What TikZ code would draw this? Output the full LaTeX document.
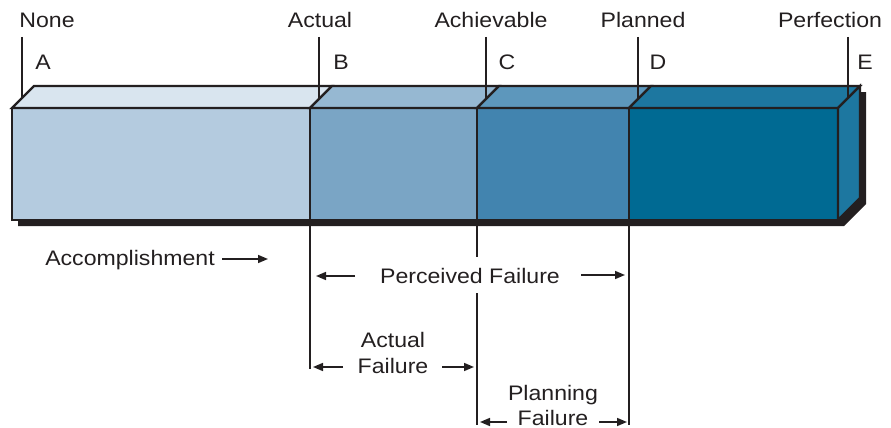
\documentclass[tikz,border=0pt]{standalone}
\usepackage{fontspec}
\setmainfont{Liberation Sans}[FakeStretch=1.1]
\usetikzlibrary{arrows.meta}
\definecolor{ink}{HTML}{231F20}
\definecolor{fa}{HTML}{B4CBDF}
\definecolor{ta}{HTML}{D9E5EF}
\definecolor{fb}{HTML}{7AA5C5}
\definecolor{tb}{HTML}{96B8D2}
\definecolor{fc}{HTML}{4284AF}
\definecolor{tc}{HTML}{5D97BC}
\definecolor{fd}{HTML}{006A93}
\definecolor{td}{HTML}{1D77A0}
\begin{document}
\begin{tikzpicture}[x=1pt,y=-1pt]
\useasboundingbox (0,0) rectangle (891,428);
\tikzset{
  lbl/.style={font=\fontsize{21}{25}\selectfont, text=ink, anchor=base, inner sep=0pt},
  face/.style={draw=ink, line width=2.2pt, line join=miter},
  tick/.style={draw=ink, line width=1.8pt},
  arr/.style={draw=ink, line width=1.6pt, -{Triangle[length=10pt,width=8pt]}}
}
% shadow
\fill[ink] (18,114) -- (40,92) -- (866,92) -- (866,204) -- (844,226) -- (18,226) -- cycle;
% faces
\filldraw[face, fill=fa] (12,108) rectangle (310,220);
\filldraw[face, fill=ta] (12,108) -- (34,86) -- (332,86) -- (310,108) -- cycle;
\filldraw[face, fill=fb] (310,108) rectangle (477,220);
\filldraw[face, fill=tb] (310,108) -- (332,86) -- (499,86) -- (477,108) -- cycle;
\filldraw[face, fill=fc] (477,108) rectangle (629,220);
\filldraw[face, fill=tc] (477,108) -- (499,86) -- (651,86) -- (629,108) -- cycle;
\filldraw[face, fill=fd] (629,108) rectangle (838,220);
\filldraw[face, fill=td] (629,108) -- (651,86) -- (860,86) -- (838,108) -- cycle;
\filldraw[face, fill=td] (838,108) -- (860,86) -- (860,198) -- (838,220) -- cycle;
% top labels
\node[lbl] (none) at (47,28) {None};
\node[lbl] (la) at (43,70) {A};
\node[lbl] (act) at (320,28) {Actual};
\node[lbl] (lb) at (341,70) {B};
\node[lbl] (ach) at (491,28) {Achievable};
\node[lbl] (lc) at (507,70) {C};
\node[lbl] (pla) at (643,28) {Planned};
\node[lbl] (ld) at (658,70) {D};
\node[lbl] (per) at (830,28) {Perfection};
\node[lbl] (le) at (865,70) {E};
% ticks above
\coordinate (ta1) at (22,37);  \coordinate (tb1) at (22,98);
\coordinate (ta2) at (319,37); \coordinate (tb2) at (319,99);
\coordinate (ta3) at (486,37); \coordinate (tb3) at (486,99);
\coordinate (ta4) at (638,37); \coordinate (tb4) at (638,99);
\coordinate (ta5) at (848,37); \coordinate (tb5) at (848,98);
\foreach \i in {1,...,5} \draw[tick] (ta\i) -- (tb\i);
% lower verticals
\coordinate (vb1) at (310,220); \coordinate (vb2) at (310,369);
\coordinate (vc1) at (477,220); \coordinate (vc2) at (477,257);
\coordinate (vc3) at (477,293); \coordinate (vc4) at (477,425);
\coordinate (vd1) at (629,220); \coordinate (vd2) at (629,425);
\draw[tick] (vb1) -- (vb2);
\draw[tick] (vc1) -- (vc2);
\draw[tick] (vc3) -- (vc4);
\draw[tick] (vd1) -- (vd2);
% bottom labels
\node[lbl] (acc) at (130,265) {Accomplishment};
\node[lbl] (pf) at (470,283) {Perceived Failure};
\node[lbl] (af1) at (393,347) {Actual};
\node[lbl] (af2) at (393,373) {Failure};
\node[lbl] (pl1) at (553,400) {Planning};
\node[lbl] (pl2) at (553,425) {Failure};
% arrows
\coordinate (a1s) at (222,259); \coordinate (a1e) at (268,259);
\coordinate (a2s) at (355,276); \coordinate (a2e) at (316,276);
\coordinate (a3s) at (581,275); \coordinate (a3e) at (625,275);
\coordinate (a4s) at (343,367); \coordinate (a4e) at (313,367);
\coordinate (a5s) at (442,367); \coordinate (a5e) at (474,367);
\coordinate (a6s) at (507,422); \coordinate (a6e) at (480,422);
\coordinate (a7s) at (599,422); \coordinate (a7e) at (627,422);
\foreach \i in {1,...,7} \draw[arr] (a\i s) -- (a\i e);
\end{tikzpicture}
\end{document}
